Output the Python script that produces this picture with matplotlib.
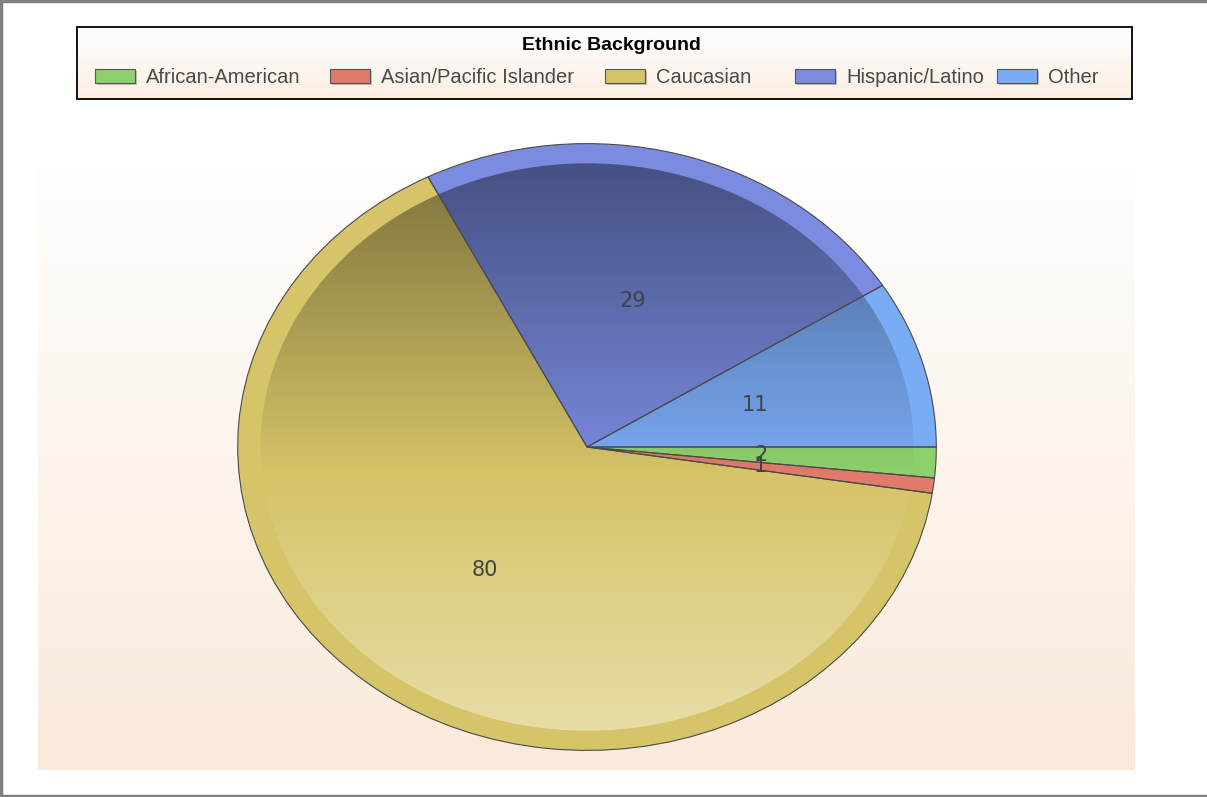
import numpy as np
import matplotlib
matplotlib.use('Agg')
import matplotlib.pyplot as plt
from matplotlib.patches import Rectangle, Circle
from matplotlib.colors import to_rgb

plt.rcParams['font.family'] = ['Liberation Sans', 'DejaVu Sans']

categories = ['African-American', 'Asian/Pacific Islander', 'Caucasian', 'Hispanic/Latino', 'Other']
values = [2, 1, 80, 29, 11]
colors = ['#8ED06C', '#E07A6A', '#D6C468', '#7A8BE0', '#7AABF5']
legend_title = 'Ethnic Background'

W, H = 1207, 797
fig = plt.figure(figsize=(W / 100, H / 100), dpi=100)
fig.patch.set_facecolor('white')
bg = fig.add_axes([0, 0, 1, 1])
bg.axis('off')


def vgrad(ax, x0, x1, y0, y1, c_top, c_bot, z=0):
    t = np.linspace(0, 1, 256)[:, None, None]
    ct = np.array(to_rgb(c_top))[None, None, :]
    cb = np.array(to_rgb(c_bot))[None, None, :]
    img = ct * (1 - t) + cb * t
    img = np.repeat(img, 2, axis=1)
    ax.imshow(img, extent=(x0, x1, y1, y0), aspect='auto', zorder=z,
              interpolation='bilinear', origin='upper')


# plot area background
vgrad(bg, 38, 1135, 140, 770, '#FFFFFF', '#FAEADB', z=0)

# legend box
vgrad(bg, 77, 1132, 27, 99, '#FFFFFF', '#FBEFE4', z=1)
bg.add_patch(Rectangle((77, 27), 1055, 72, facecolor='none', edgecolor='black', lw=1.3, zorder=2))
bg.text(611, 45, legend_title, ha='center', va='center', fontsize=14, fontweight='bold',
        color='black', zorder=3)

sw_x = [95, 330, 605, 795, 997]
tx_x = [146, 381, 656, 846, 1048]
for c, lab, sx, tx in zip(colors, categories, sw_x, tx_x):
    bg.add_patch(Rectangle((sx + 2, 71), 40, 14, facecolor='#9a9a9a', edgecolor='none',
                           alpha=0.6, zorder=2))
    bg.add_patch(Rectangle((sx, 69), 40, 14, facecolor=c, edgecolor='#555555', lw=0.8, zorder=3))
    bg.text(tx, 77, lab, ha='left', va='center', fontsize=14.5, color='#4A4A4A', zorder=3)

# figure border (left, top, bottom)
bg.plot([1, 1], [0, H], color='#808080', lw=2.5, zorder=5)
bg.plot([0, W], [1, 1], color='#808080', lw=2.5, zorder=5)
bg.plot([0, W], [H - 1, H - 1], color='#808080', lw=2.5, zorder=5)

bg.set_xlim(0, W)
bg.set_ylim(H, 0)

# pie
ax = fig.add_axes([237 / W, (H - 751) / H, 700 / W, 608 / H])
total = sum(values)
wedges, texts, autotexts = ax.pie(
    values, colors=colors, startangle=0, counterclock=False,
    autopct=lambda p: '%d' % round(p * total / 100.0), pctdistance=0.5,
    wedgeprops=dict(edgecolor='none'),
    textprops=dict(fontsize=15, color='#3E4440', family='DejaVu Sans'))
for t in autotexts:
    t.set_zorder(5)

# shading overlay inside the rim
n = 400
ys = np.linspace(1, -1, n)
arr = np.zeros((n, 2, 4))
split = -0.1
for i, y in enumerate(ys):
    if y > split:
        arr[i, :, :3] = 0.0
        arr[i, :, 3] = 0.45 * (y - split) / (1 - split)
    else:
        arr[i, :, :3] = 1.0
        arr[i, :, 3] = 0.45 * (split - y) / (1 + split)
im = ax.imshow(arr, extent=(-1, 1, -1, 1), aspect='auto', zorder=2, interpolation='bilinear')
im.set_clip_path(Circle((0, 0), 0.935, transform=ax.transData))

# edges on top
ax.pie(values, startangle=0, counterclock=False,
       wedgeprops=dict(facecolor='none', edgecolor='#4A4A4A', linewidth=0.8, zorder=3))

ax.set_aspect('auto')
ax.set_xlim(-1.002, 1.002)
ax.set_ylim(-1.002, 1.002)
ax.axis('off')

fig.savefig('out.png', dpi=100)
